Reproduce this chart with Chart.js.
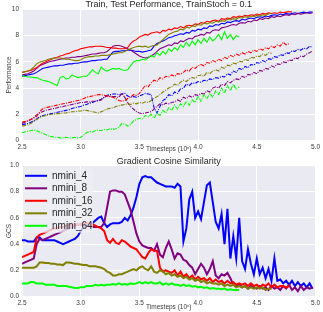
<!DOCTYPE html>
<html>
<head>
<meta charset="utf-8">
<script src="https://cdn.jsdelivr.net/npm/chart.js@4.4.1/dist/chart.umd.min.js"></script>
<style>
    html, body { margin: 0; padding: 0; background: #fff; }
    #wrap { position: relative; width: 323px; height: 312px; }
    canvas { position: absolute; left: 0; }
    #perf { top: 0; }
    #gcs { top: 156px; }
</style>
</head>
<body>
<div id="wrap">
    <canvas id="perf" width="323" height="156" style="width:323px;height:156px"></canvas>
    <canvas id="gcs" width="323" height="156" style="width:323px;height:156px"></canvas>
</div>
<script>
// log10 timesteps, shared by every curve (each curve stops where its values stop)
const timesteps = [2.5,2.525,2.55,2.575,2.6,2.625,2.65,2.675,2.7,2.725,2.75,2.775,2.8,2.825,2.85,2.875,2.9,2.925,2.95,2.975,
    3.0,3.025,3.05,3.075,3.1,3.125,3.15,3.175,3.2,3.225,3.25,3.275,3.3,3.325,3.35,3.375,3.4,3.425,3.45,3.475,
    3.5,3.525,3.55,3.575,3.6,3.625,3.65,3.675,3.7,3.725,3.75,3.775,3.8,3.825,3.85,3.875,3.9,3.925,3.95,3.975,
    4.0,4.025,4.05,4.075,4.1,4.125,4.15,4.175,4.2,4.225,4.25,4.275,4.3,4.325,4.35,4.375,4.4,4.425,4.45,4.475,
    4.5,4.525,4.55,4.575,4.6,4.625,4.65,4.675,4.7,4.725,4.75,4.775,4.8,4.825,4.85,4.875,4.9,4.925,4.95,4.975,5.0];

const names = ['nmini_4', 'nmini_8', 'nmini_16', 'nmini_32', 'nmini_64'];
const colors = ['#0000FF', '#800080', '#FF0000', '#808000', '#00FF00'];

// Train performance (solid)
const trainBlue = [4.9,4.95,5.0,5.05,5.1,5.2,5.35,5.5,5.55,5.6, 5.65,5.7,5.7,5.75,5.75,5.8,5.85,5.85,5.9,5.9,
    5.95,6.0,6.0,6.05,6.1,6.1,6.15,6.15,6.2,6.2, 6.5,6.75,6.8,6.8,6.85,6.85,6.9,6.9,6.85,6.8,
    6.8,6.75,6.8,6.85,6.9,7.2,7.4,7.5,7.6,7.7, 7.85,7.9,8.0,8.05,8.15,8.1,8.25,8.2,8.4,8.35,
    8.5,8.45,8.6,8.55,8.75,8.7,8.85,8.8,8.95,8.9, 9.05,9.0,9.1,9.15,9.1,9.25,9.2,9.3,9.35,9.3,
    9.4,9.45,9.4,9.5,9.45,9.55,9.6,9.55,9.65,9.6, 9.7,9.65,9.7,9.75,9.7,9.75,9.8,9.75,9.8,9.8];
const trainPurple = [5.0,5.05,5.1,5.2,5.3,5.5,5.7,5.8,5.9,6.0, 6.05,6.1,6.15,6.2,6.25,6.3,6.3,6.35,6.35,6.4,
    6.4,6.45,6.5,6.55,6.6,6.6,6.65,6.7,6.7,6.8, 7.0,7.2,7.25,7.25,7.2,7.1,7.0,6.9,6.75,6.6,
    6.45,6.35,6.3,6.35,6.45,6.6,6.8,7.0,7.1,7.2, 7.3,7.25,7.45,7.4,7.6,7.55,7.7,7.8,7.75,7.95,
    8.0,8.1,8.05,8.25,8.2,8.4,8.45,8.4,8.6,8.65, 8.7,8.8,8.85,8.8,8.95,9.0,8.95,9.1,9.05,9.2,
    9.15,9.3,9.25,9.35,9.3,9.45,9.4,9.5,9.45,9.55, 9.6,9.55,9.65,9.6,9.7,9.65,9.7,9.75,9.7,9.75];
const trainRed = [5.2,5.25,5.3,5.35,5.45,5.55,5.75,5.9,6.0,6.1, 6.2,6.3,6.35,6.45,6.5,6.6,6.65,6.75,6.85,6.9,
    7.0,7.05,7.1,7.15,7.15,7.2,7.2,7.2,7.15,7.1, 7.1,7.05,7.05,7.0,7.0,7.0,7.1,7.4,7.6,7.7,
    7.9,8.0,8.1,8.05,8.2,8.25,8.3,8.2,8.4,8.35, 8.5,8.45,8.6,8.55,8.7,8.6,8.75,8.8,8.75,8.9,
    8.85,9.0,8.95,9.1,9.05,9.15,9.2,9.1,9.3,9.25, 9.35,9.3,9.45,9.4,9.5,9.45,9.55,9.5,9.6,9.55,
    9.65,9.6,9.7,9.65,9.75,9.7,9.75,9.7,9.8,9.75, 9.8,9.85,9.8];
const trainOlive = [5.2,5.25,5.3,5.4,5.6,5.85,6.0,6.05,6.1,6.2, 6.25,6.3,6.3,6.3,6.25,6.2,6.2,6.15,6.1,6.1,
    6.15,6.3,6.35,6.4,6.4,6.45,6.45,6.5,6.5,6.5, 6.55,6.6,6.65,6.7,6.7,6.8,6.9,7.0,7.1,7.15,
    7.2,7.15,7.2,7.1,7.2,7.25,7.3,7.5,7.7,7.9, 8.1,8.2,8.3,8.35,8.5,8.45,8.65,8.6,8.75,8.7,
    8.85,8.8,8.95,8.9,9.0,8.95,9.1,9.05,9.15,9.1, 9.25,9.2,9.3,9.25,9.4,9.35,9.45,9.4,9.5,9.45,
    9.55,9.5,9.6,9.55,9.65,9.7];
const trainGreen = [4.9,4.9,4.85,4.85,4.8,4.8,4.7,4.6,4.55,4.5, 4.4,4.3,4.2,4.8,4.9,4.7,4.75,5.0,4.9,4.8,
    4.85,4.9,4.9,5.1,5.4,5.2,5.1,5.6,5.4,5.3, 5.4,5.5,5.45,5.5,5.4,5.35,5.4,5.7,6.0,6.1,
    6.1,6.2,6.15,6.3,6.5,6.35,6.7,6.5,6.8,6.6, 7.0,6.8,7.1,6.9,7.3,7.1,7.5,7.2,7.6,7.3,
    7.7,7.4,7.8,7.5,7.9,7.6,7.8,8.1,7.7,8.3, 7.8,8.1,7.7,8.0,7.9];

// Test performance (dash-dot)
const testBlue = [1.2,1.25,1.3,1.4,1.5,1.65,1.8,1.9,1.95,2.0, 2.05,2.1,2.15,2.2,2.25,2.3,2.35,2.45,2.5,2.55,
    2.6,2.7,2.75,2.85,2.9,3.0,3.05,3.15,3.3,3.45, 3.5,3.55,3.55,3.5,3.55,3.6,3.4,3.3,3.35,3.3,
    3.4,3.5,3.6,3.55,3.5,2.5,2.1,2.6,3.05,3.2, 3.5,3.4,3.7,3.6,3.95,4.0,4.3,4.2,4.4,4.35,
    4.5,4.45,4.6,4.55,4.7,4.65,4.8,4.75,4.9,4.85, 5.1,5.0,5.3,5.2,5.5,5.4,5.65,5.55,5.8,5.75,
    5.95,5.9,6.1,6.0,6.25,6.2,6.4,6.35,6.55,6.5, 6.7,6.65,6.85,6.8,6.95,6.9,7.05,7.0,7.2,7.1];
const testPurple = [1.3,1.4,1.5,1.6,1.75,1.95,2.1,2.2,2.3,2.35, 2.4,2.45,2.5,2.55,2.6,2.65,2.7,2.75,2.8,2.85,
    2.9,2.9,2.95,2.95,3.0,3.0,3.05,3.1,3.3,3.4, 3.4,3.35,3.35,3.3,3.6,3.3,2.9,2.6,2.4,2.2,
    2.1,2.05,2.1,2.15,2.2,2.4,2.6,2.8,2.7,2.85, 2.8,2.9,2.95,3.1,3.0,3.3,3.2,3.4,3.3,3.5,
    3.45,3.6,3.55,3.8,3.7,4.0,4.1,4.0,4.3,4.2, 4.5,4.4,4.6,4.7,4.65,4.9,4.8,5.05,5.0,5.2,
    5.1,5.35,5.3,5.5,5.45,5.7,5.6,5.85,5.8,6.0, 5.95,6.15,6.1,6.3,6.25,6.45,6.4,6.6,6.7,6.85];
const testRed = [1.4,1.45,1.5,1.6,1.7,1.85,2.2,2.4,2.5,2.55, 2.6,2.65,2.7,2.75,2.8,2.85,2.9,2.95,3.0,3.05,
    3.1,3.2,3.3,3.35,3.4,3.45,3.5,3.5,3.45,3.4, 3.35,3.3,3.2,3.05,3.0,3.05,3.2,3.3,3.5,3.45,
    3.6,3.9,4.2,4.1,4.4,4.6,4.5,4.8,4.7,4.9, 4.85,5.0,4.9,5.1,5.05,5.2,5.4,5.3,5.6,5.5,
    5.7,5.8,5.7,5.95,5.9,6.1,6.0,6.2,6.1,6.35, 6.25,6.5,6.4,6.6,6.5,6.7,6.6,6.8,6.7,6.9,
    6.8,7.0,6.9,7.1,7.0,7.2,7.1,7.3,7.2,7.5, 7.3,7.4];
const testOlive = [1.1,1.15,1.2,1.3,1.45,1.6,1.75,1.85,1.9,1.95, 2.0,2.0,2.05,2.05,2.1,2.1,2.15,2.2,2.2,2.25,
    2.25,2.3,2.3,2.25,2.2,2.15,2.1,2.2,2.3,2.4, 2.45,2.5,2.6,2.65,2.7,2.75,2.8,2.75,2.85,2.8,
    2.9,2.85,2.95,2.9,3.05,3.2,3.35,3.5,3.7,3.85, 4.0,4.1,4.3,4.2,4.45,4.6,4.5,4.7,4.8,4.75,
    4.95,5.0,4.9,5.2,5.1,5.3,5.4,5.3,5.6,5.5, 5.75,5.7,5.9,5.85,6.05,6.0,6.2,6.1,6.35,6.3,
    6.45,6.4,6.6,6.5,6.7,6.65];
const testGreen = [0.6,0.65,0.7,0.75,0.8,0.75,0.65,0.55,0.45,0.35, 0.3,0.25,0.25,0.2,0.2,0.25,0.2,0.2,0.25,0.2,
    0.25,0.4,0.6,0.7,0.65,0.75,0.8,0.75,0.85,0.8, 0.9,0.85,0.9,1.0,1.3,1.25,1.1,1.2,1.5,1.6,
    1.7,1.65,1.9,1.8,2.0,1.7,2.1,1.9,2.3,2.1, 2.5,2.3,2.7,2.4,2.8,2.6,3.0,2.7,3.1,2.9,
    3.4,3.0,3.5,3.2,3.6,3.3,3.8,3.5,4.0,3.6, 4.2,3.8,4.3,3.9,4.1];

// Gradient cosine similarity
const gcsBlue = [0.43,0.43,0.42,0.42,0.42,0.45,0.45,0.43,0.43,0.43, 0.43,0.43,0.42,0.41,0.40,0.41,0.42,0.43,0.44,0.46,
    0.50,0.53,0.54,0.55,0.56,0.58,0.60,0.61,0.56,0.53, 0.55,0.56,0.56,0.56,0.57,0.60,0.58,0.62,0.68,0.76,
    0.86,0.91,0.92,0.91,0.91,0.89,0.87,0.86,0.85,0.84, 0.84,0.84,0.83,0.86,0.84,0.42,0.52,0.74,0.80,0.60,
    0.65,0.59,0.72,0.85,0.87,0.72,0.57,0.52,0.63,0.40, 0.67,0.29,0.46,0.29,0.60,0.27,0.21,0.36,0.25,0.17,
    0.29,0.17,0.22,0.14,0.21,0.12,0.29,0.12,0.13,0.10, 0.12,0.09,0.12,0.08,0.11,0.08,0.10,0.07,0.10,0.06];
const gcsPurple = [0.25,0.26,0.27,0.28,0.29,0.40,0.44,0.43,0.44,0.45, 0.46,0.47,0.48,0.49,0.50,0.51,0.52,0.53,0.54,0.55,
    0.55,0.54,0.54,0.54,0.53,0.53,0.53,0.53,0.56,0.68, 0.80,0.81,0.81,0.80,0.80,0.78,0.72,0.66,0.57,0.48,
    0.42,0.39,0.38,0.37,0.37,0.35,0.40,0.32,0.30,0.37, 0.42,0.36,0.29,0.33,0.32,0.28,0.27,0.24,0.22,0.17,
    0.21,0.25,0.22,0.17,0.21,0.27,0.16,0.14,0.17,0.16, 0.18,0.14,0.09,0.08,0.09,0.07,0.08,0.06,0.08,0.07,
    0.06,0.08,0.06,0.07,0.05,0.08,0.06,0.07,0.05,0.08, 0.06,0.09,0.05,0.07,0.04,0.08,0.05,0.07,0.06,0.07];
const gcsRed = [0.30,0.31,0.32,0.33,0.34,0.45,0.47,0.48,0.49,0.50, 0.51,0.52,0.52,0.53,0.53,0.54,0.54,0.55,0.55,0.55,
    0.55,0.56,0.56,0.56,0.55,0.54,0.53,0.52,0.50,0.43, 0.41,0.44,0.41,0.40,0.43,0.42,0.40,0.38,0.37,0.36,
    0.33,0.30,0.29,0.33,0.36,0.35,0.35,0.22,0.19,0.20, 0.19,0.18,0.20,0.16,0.19,0.15,0.17,0.14,0.16,0.13,
    0.15,0.13,0.14,0.12,0.14,0.11,0.13,0.11,0.12,0.10, 0.12,0.10,0.11,0.09,0.10,0.09,0.10,0.08,0.10,0.08,
    0.09,0.07,0.09,0.08,0.10,0.07,0.09,0.07,0.08,0.08, 0.07,0.08];
const gcsOlive = [0.22,0.22,0.22,0.22,0.22,0.23,0.26,0.26,0.255,0.255, 0.25,0.25,0.245,0.245,0.24,0.26,0.26,0.255,0.25,0.25,
    0.245,0.24,0.24,0.23,0.23,0.23,0.225,0.22,0.21,0.19, 0.18,0.16,0.16,0.17,0.17,0.18,0.19,0.20,0.21,0.20,
    0.22,0.23,0.21,0.20,0.23,0.19,0.18,0.20,0.19,0.17, 0.18,0.16,0.17,0.15,0.16,0.14,0.15,0.13,0.14,0.12,
    0.13,0.11,0.12,0.10,0.11,0.10,0.10,0.09,0.10,0.08, 0.09,0.08,0.09,0.07,0.08,0.07,0.08,0.06,0.07,0.06,
    0.07,0.06,0.07,0.05,0.06,0.06];
const gcsGreen = [0.10,0.10,0.10,0.11,0.11,0.10,0.10,0.10,0.09,0.09, 0.09,0.09,0.08,0.08,0.08,0.08,0.075,0.07,0.065,0.065,
    0.07,0.07,0.08,0.08,0.08,0.09,0.085,0.09,0.085,0.09, 0.09,0.095,0.09,0.10,0.09,0.095,0.09,0.10,0.095,0.10,
    0.11,0.10,0.11,0.10,0.11,0.10,0.10,0.11,0.09,0.10, 0.09,0.10,0.09,0.09,0.08,0.09,0.08,0.085,0.075,0.08,
    0.07,0.075,0.065,0.07,0.06,0.065,0.06,0.06,0.055,0.06, 0.05,0.055,0.05,0.05,0.05];

Chart.defaults.font.family = '"Liberation Sans", Arial, sans-serif';
Chart.defaults.color = '#3a3a3a';

// Build one line dataset from a value list
const line = (label, color, ys, width, dash) => ({
    label: label,
    data: ys.map((y, i) => ({ x: timesteps[i], y: y })),
    borderColor: color,
    backgroundColor: color,
    borderWidth: width,
    borderDash: dash || [],
    pointRadius: 0,
    fill: false,
    tension: 0
});

// Grey panel behind the plot
const panelBg = {
    id: 'panelBg',
    beforeDraw(chart) {
        const { ctx, chartArea: a } = chart;
        ctx.save();
        ctx.fillStyle = '#EAEAF2';
        ctx.fillRect(a.left, a.top, a.right - a.left, a.bottom - a.top);
        ctx.restore();
    }
};

// Plot title
const heading = {
    id: 'heading',
    afterDraw(chart, args, opts) {
        const { ctx, chartArea: a } = chart;
        ctx.save();
        ctx.font = '9px "Liberation Sans", Arial, sans-serif';
        ctx.fillStyle = '#262626';
        ctx.textAlign = 'center';
        ctx.textBaseline = 'middle';
        ctx.fillText(opts.text, (a.left + a.right) / 2, opts.y);
        ctx.restore();
    }
};

// Legend inside the top-left corner of the plot
const boxLegend = {
    id: 'boxLegend',
    afterDatasetsDraw(chart) {
        const { ctx, chartArea: a } = chart;
        const sets = chart.data.datasets;
        const x0 = a.left + 1, y0 = a.top + 3.3, rowH = 12.5;
        ctx.save();
        ctx.fillStyle = 'rgba(238,238,244,0.8)';
        ctx.beginPath();
        ctx.roundRect(x0, y0, 70, rowH * sets.length + 1.5, 3);
        ctx.fill();
        ctx.font = '10px "Liberation Sans", Arial, sans-serif';
        ctx.textBaseline = 'middle';
        sets.forEach((ds, i) => {
            const y = y0 + 7 + i * rowH;
            ctx.strokeStyle = ds.borderColor;
            ctx.lineWidth = 2;
            ctx.beginPath();
            ctx.moveTo(x0 + 2, y);
            ctx.lineTo(x0 + 24, y);
            ctx.stroke();
            ctx.fillStyle = '#262626';
            ctx.fillText(ds.label, x0 + 29, y);
        });
        ctx.restore();
    }
};

function axes(yMax, yStep, digits, yTitle, xTitlePad) {
    const grid = { color: '#ffffff', lineWidth: 1, drawTicks: false };
    return {
        x: {
            type: 'linear', min: 2.5, max: 5.0,
            afterFit: s => { s.height = 15.5; },
            grid: grid, border: { display: false },
            ticks: { stepSize: 0.5, padding: 3, autoSkip: false, maxRotation: 0, font: { size: 6.5 },
                     callback: v => v.toFixed(1) },
            title: { display: true, text: 'Timesteps (10ˣ)', font: { size: 6.5 }, padding: { top: 0, bottom: xTitlePad } }
        },
        y: {
            min: 0, max: yMax,
            afterFit: s => { s.width = 22; },
            grid: grid, border: { display: false },
            ticks: { stepSize: yStep, padding: 3, font: { size: 6.5 },
                     callback: v => digits ? v.toFixed(digits) : String(v) },
            title: { display: true, text: yTitle, font: { size: 6.5 }, padding: { top: 5, bottom: 0 } }
        }
    };
}

const baseOptions = (scales, title, titleY) => ({
    responsive: false,
    animation: false,
    layout: { padding: { left: 0, right: 6, top: 9.5, bottom: 0 } },
    scales: scales,
    plugins: {
        legend: { display: false },
        tooltip: { enabled: false },
        heading: { text: title, y: titleY }
    }
});

// Top: train (solid) and test (dash-dot) performance
const dashDot = [4, 1.2, 1, 1.2];
const perfSets = [
    line(names[0] + ' test', colors[0], testBlue, 1.1, dashDot),
    line(names[1] + ' test', colors[1], testPurple, 1.1, dashDot),
    line(names[2] + ' test', colors[2], testRed, 1.1, dashDot),
    line(names[3] + ' test', colors[3], testOlive, 1.1, dashDot),
    line(names[4] + ' test', colors[4], testGreen, 1.1, dashDot),
    line(names[0] + ' train', colors[0], trainBlue, 1.1),
    line(names[1] + ' train', colors[1], trainPurple, 1.1),
    line(names[2] + ' train', colors[2], trainRed, 1.1),
    line(names[3] + ' train', colors[3], trainOlive, 1.1),
    line(names[4] + ' train', colors[4], trainGreen, 1.1)
];
perfSets.forEach((d, i) => { d.order = perfSets.length - i; });

new Chart(document.getElementById('perf'), {
    type: 'line',
    data: { datasets: perfSets },
    options: baseOptions(axes(10, 2, 0, 'Performance', 2.5), 'Train, Test Performance, TrainStoch = 0.1', 4.8),
    plugins: [panelBg, heading]
});

// Bottom: gradient cosine similarity
const gcsSets = [
    line(names[0], colors[0], gcsBlue, 2),
    line(names[1], colors[1], gcsPurple, 2),
    line(names[2], colors[2], gcsRed, 2),
    line(names[3], colors[3], gcsOlive, 2),
    line(names[4], colors[4], gcsGreen, 2)
];
gcsSets.forEach((d, i) => { d.order = gcsSets.length - i; });

new Chart(document.getElementById('gcs'), {
    type: 'line',
    data: { datasets: gcsSets },
    options: baseOptions(axes(1, 0.2, 1, 'GCS', 0.5), 'Gradient Cosine Similarity', 5.5),
    plugins: [panelBg, heading, boxLegend]
});
</script>
</body>
</html>
